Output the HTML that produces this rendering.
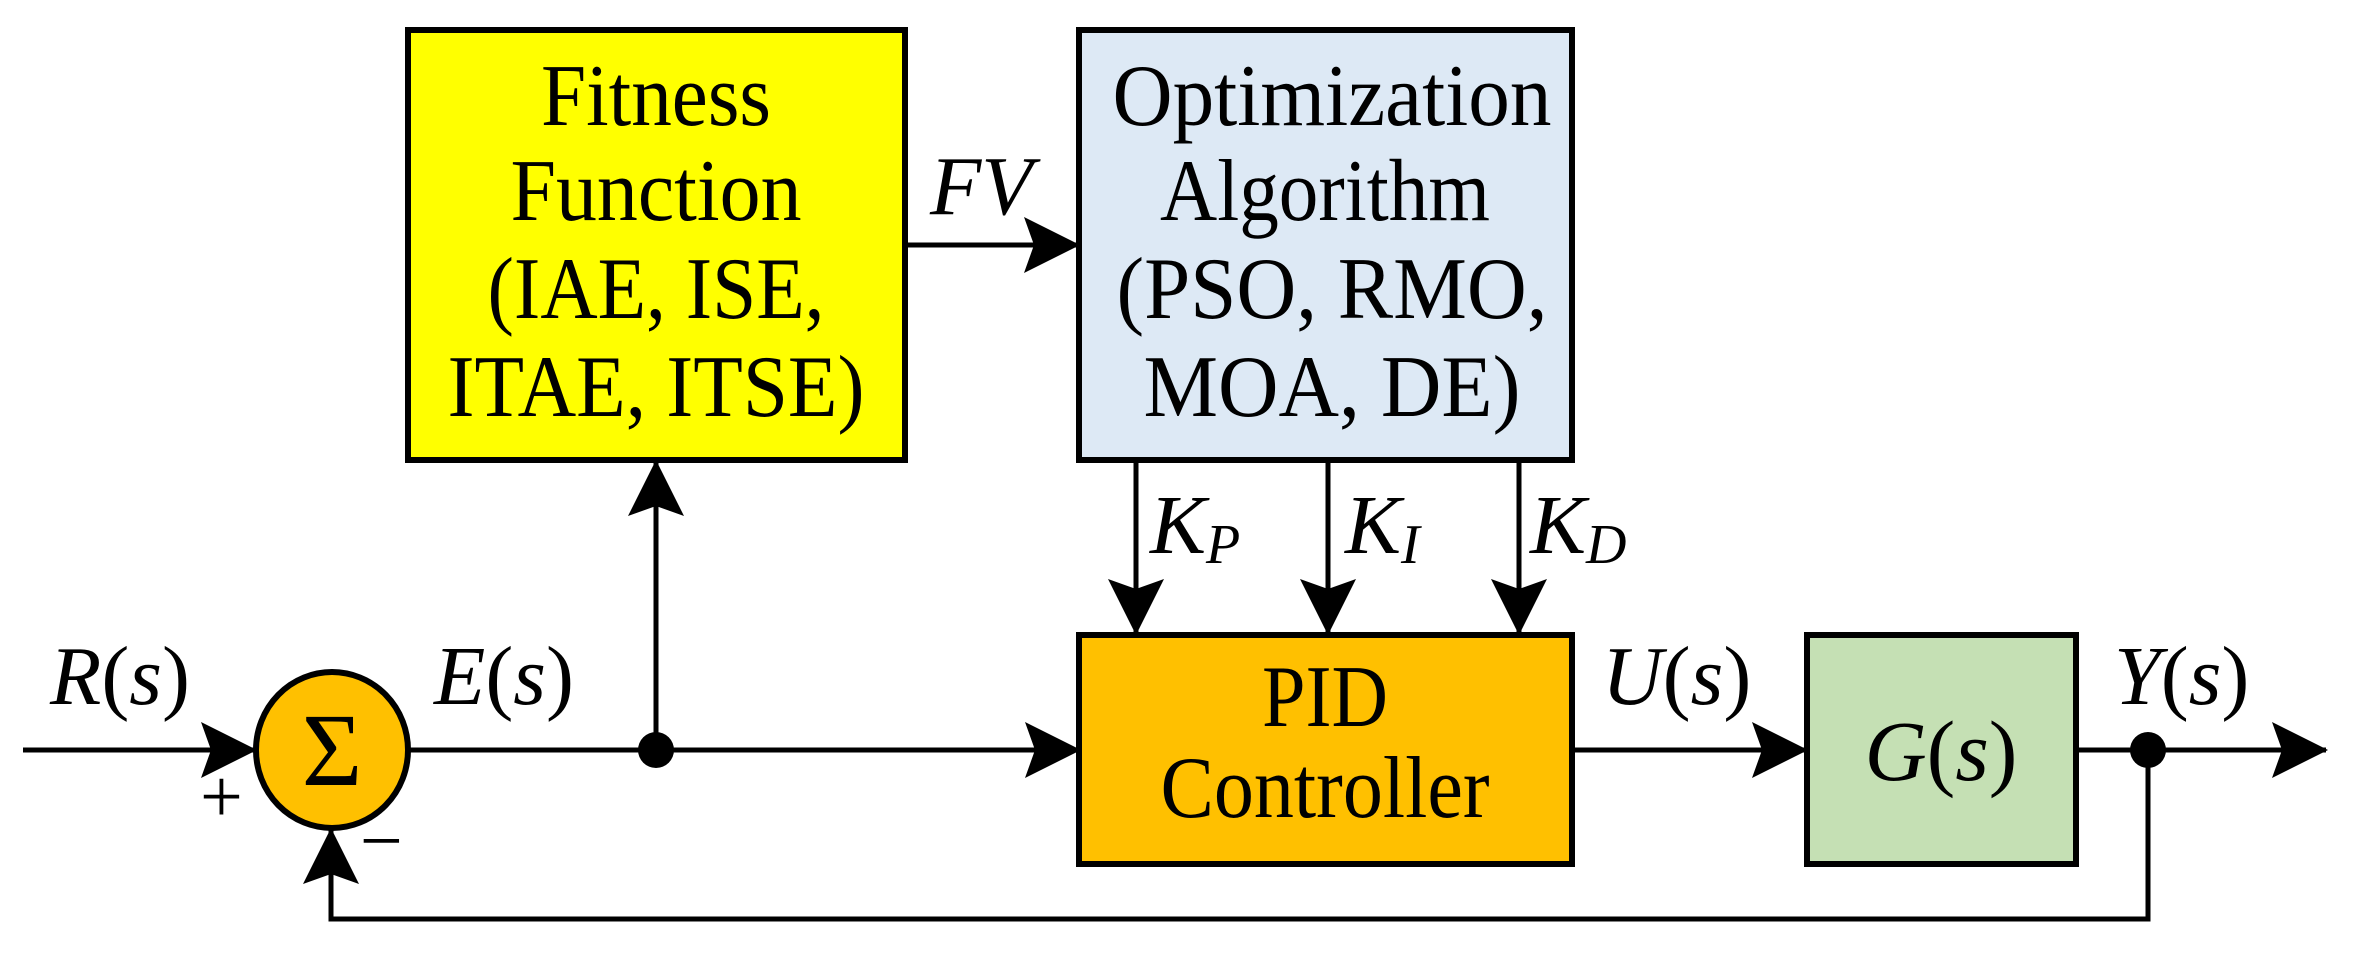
<!DOCTYPE html>
<html><head><meta charset="utf-8"><style>
html,body{margin:0;padding:0;background:#fff;}
svg{display:block;}
</style></head><body>
<svg width="2353" height="960" viewBox="0 0 2353 960" xmlns="http://www.w3.org/2000/svg" font-family="'Liberation Serif', 'Times New Roman', Times, serif">
<defs>
<marker id="ah" markerWidth="56" markerHeight="56" refX="54" refY="28" orient="auto" markerUnits="userSpaceOnUse">
<path d="M0,0 L56,28 L0,56 L10,28 Z" fill="#000"/>
</marker>
</defs>
<g stroke="#000" stroke-width="6">
<rect x="408" y="30" width="497" height="430" fill="#ffff00"/>
<rect x="1079" y="30" width="493" height="430" fill="#dde9f5"/>
<rect x="1079" y="635" width="493" height="229" fill="#ffc000"/>
<rect x="1807" y="635" width="269" height="229" fill="#c5e0b4"/>
<ellipse cx="332" cy="750" rx="76" ry="78" fill="#ffc000"/>
</g>
<g stroke="#000" stroke-width="5" fill="none">
<line x1="23" y1="750" x2="255" y2="750" marker-end="url(#ah)"/>
<line x1="408" y1="750" x2="1079" y2="750" marker-end="url(#ah)"/>
<line x1="656" y1="750" x2="656" y2="462" marker-end="url(#ah)"/>
<line x1="905" y1="245" x2="1078" y2="245" marker-end="url(#ah)"/>
<line x1="1136" y1="463" x2="1136" y2="633" marker-end="url(#ah)"/>
<line x1="1328" y1="463" x2="1328" y2="633" marker-end="url(#ah)"/>
<line x1="1519" y1="463" x2="1519" y2="633" marker-end="url(#ah)"/>
<line x1="1572" y1="750" x2="1806" y2="750" marker-end="url(#ah)"/>
<line x1="2076" y1="750" x2="2326" y2="750" marker-end="url(#ah)"/>
<polyline points="2148,750 2148,919 331,919 331,830" marker-end="url(#ah)"/>
</g>
<circle cx="656" cy="750" r="18" fill="#000"/>
<circle cx="2148" cy="750" r="18" fill="#000"/>
<g font-size="88" text-anchor="middle" fill="#000" lengthAdjust="spacingAndGlyphs">
<text x="656" y="125" textLength="230" lengthAdjust="spacingAndGlyphs">Fitness</text>
<text x="656" y="220" textLength="291" lengthAdjust="spacingAndGlyphs">Function</text>
<text x="656" y="318" textLength="337" lengthAdjust="spacingAndGlyphs">(IAE, ISE,</text>
<text x="656" y="416" textLength="417" lengthAdjust="spacingAndGlyphs">ITAE, ITSE)</text>
<text x="1332" y="125" textLength="439" lengthAdjust="spacingAndGlyphs">Optimization</text>
<text x="1325" y="220" textLength="330" lengthAdjust="spacingAndGlyphs">Algorithm</text>
<text x="1332" y="318" textLength="431" lengthAdjust="spacingAndGlyphs">(PSO, RMO,</text>
<text x="1332" y="416" textLength="377" lengthAdjust="spacingAndGlyphs">MOA, DE)</text>
<text x="1325" y="726" textLength="126" lengthAdjust="spacingAndGlyphs">PID</text>
<text x="1325" y="817" textLength="329" lengthAdjust="spacingAndGlyphs">Controller</text>
<text x="1941" y="780" font-size="86"><tspan font-style="italic">G</tspan>(<tspan font-style="italic">s</tspan>)</text>
<text x="332" y="785" font-size="104">Σ</text>
</g>
<g font-size="84" fill="#000">
<text x="930" y="214" font-style="italic">FV</text>
<text x="1150" y="553"><tspan font-style="italic">K</tspan><tspan font-style="italic" font-size="56" dy="10">P</tspan></text>
<text x="1345" y="553"><tspan font-style="italic">K</tspan><tspan font-style="italic" font-size="56" dy="10">I</tspan></text>
<text x="1530" y="553"><tspan font-style="italic">K</tspan><tspan font-style="italic" font-size="56" dy="10">D</tspan></text>
<text x="50" y="704"><tspan font-style="italic">R</tspan>(<tspan font-style="italic">s</tspan>)</text>
<text x="434" y="704"><tspan font-style="italic">E</tspan>(<tspan font-style="italic">s</tspan>)</text>
<text x="1602" y="704"><tspan font-style="italic">U</tspan>(<tspan font-style="italic">s</tspan>)</text>
<text x="2114" y="704"><tspan font-style="italic">Y</tspan>(<tspan font-style="italic">s</tspan>)</text>
<text x="200" y="822" font-size="76">+</text>
<text x="360" y="866" font-size="76">−</text>
</g>
</svg>
</body></html>
